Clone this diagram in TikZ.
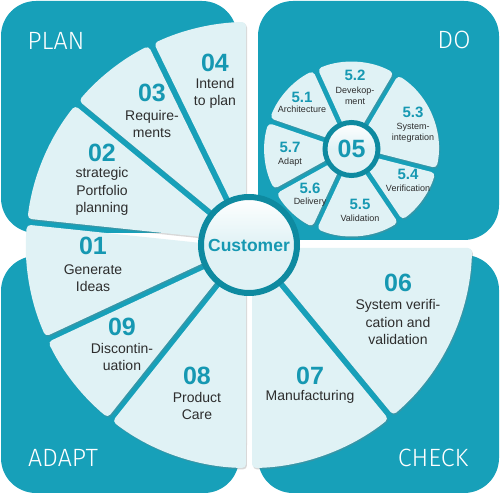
\documentclass[tikz,border=0pt]{standalone}
\usepackage{fontspec}
\setmainfont{Liberation Sans}
\IfFontExistsTF{Fira Sans Light}{\newfontfamily\thinfont{Fira Sans Light}}{\newfontfamily\thinfont{Liberation Sans}}
\usetikzlibrary{calc,shadows}
\definecolor{boxteal}{RGB}{23,160,185}
\definecolor{ringteal}{RGB}{14,138,160}
\definecolor{numteal}{RGB}{22,152,178}
\definecolor{segfill}{RGB}{224,242,245}
\definecolor{txt}{RGB}{45,45,45}
\newcommand\gp{3}
\newcommand\myseg[5]{%
  \path[segstyle] ($(#1)+({#2}:#4)+({#2+90}:\gp)$) -- ($(#1)+({#2}:#5)+({#2+90}:\gp)$)
    arc[start angle={#2+asin(\gp/#5)}, end angle={#3-asin(\gp/#5)}, radius=#5]
    -- ($(#1)+({#3}:#4)+({#3-90}:\gp)$) -- cycle;}
\begin{document}
\begin{tikzpicture}[x=1pt,y=1pt,
  segstyle/.style={fill=segfill, rounded corners=4pt,
    drop shadow={shadow xshift=1pt, shadow yshift=-1.5pt, opacity=0.3}},
  quadbox/.style={fill=boxteal, rounded corners=35pt},
  num/.style={text=numteal, font=\fontsize{25}{25}\selectfont\bfseries, inner sep=0pt},
  lbl/.style={text=txt, font=\fontsize{14}{17.5}\selectfont, align=center, inner sep=0pt},
  snum/.style={text=numteal, font=\fontsize{15}{15}\selectfont\bfseries, inner sep=0pt},
  slbl/.style={text=txt, font=\fontsize{9}{11}\selectfont, align=center, inner sep=0pt},
  quad/.style={text=white, font=\thinfont\fontsize{25}{25}\selectfont, inner sep=0pt}]
\useasboundingbox (0,0) rectangle (500,494);
\fill[white] (0,0) rectangle (500,494);
% quadrant boxes
\path[quadbox] (1,261) rectangle (237,493);
\path[quadbox] (258,254) rectangle (499,493);
\path[quadbox] (1,1) rectangle (239,238);
\path[quadbox] (258,1) rectangle (499,239);
\node[quad] (plan) at (56,453) {PLAN};
\node[quad] (do) at (454,454) {DO};
\node[quad] (adapt) at (63,36) {ADAPT};
\node[quad] (check) at (433,36) {CHECK};
% big wheel
\coordinate (C) at (249,249);
\myseg{C}{90}{116}{40}{223}
\myseg{C}{116}{140.5}{40}{223}
\myseg{C}{140.5}{174}{40}{223}
\myseg{C}{174}{205}{40}{223}
\myseg{C}{205}{231.5}{40}{223}
\myseg{C}{231.5}{270}{40}{223}
\myseg{C}{270}{309.5}{40}{223}
\myseg{C}{309.5}{360}{40}{223}
\node[circle, draw=ringteal, line width=6pt, minimum size=96pt, inner sep=0pt,
  top color=white, bottom color=segfill, middle color=segfill,
  drop shadow={shadow xshift=1pt, shadow yshift=-1.5pt, opacity=0.3},
  text=numteal, font=\fontsize{17.5}{17.5}\selectfont\bfseries] (cust) at (C) {Customer};
% big labels
\node[num] (n04) at (215,431) {04};
\node[lbl] (t04) at (215,400.5) {Intend\\to plan};
\node[num] (n03) at (152,401) {03};
\node[lbl] (t03) at (152,370) {Require-\\ments};
\node[num] (n02) at (102,341) {02};
\node[lbl] (t02) at (102,302.3) {strategic\\Portfolio\\planning};
\node[num] (n01) at (93,248) {01};
\node[lbl] (t01) at (93,216) {Generate\\Ideas};
\node[num] (n09) at (122,167) {09};
\node[lbl] (t09) at (122,137) {Discontin-\\uation};
\node[num] (n08) at (197,118) {08};
\node[lbl] (t08) at (197,88) {Product\\Care};
\node[num] (n07) at (310,118) {07};
\node[lbl] (t07) at (310,97) {Manufacturing};
\node[num] (n06) at (398,211) {06};
\node[lbl] (t06) at (398,171.7) {System verifi-\\cation and\\validation};
% small wheel
\coordinate (S) at (351.5,345);
\renewcommand\gp{2.5}
\myseg{S}{114.5}{161}{20}{87}
\myseg{S}{59.4}{114.5}{20}{87}
\myseg{S}{-14.3}{59.4}{20}{87}
\myseg{S}{-56}{-14.3}{20}{87}
\myseg{S}{-115}{-56}{20}{87}
\myseg{S}{-151}{-115}{20}{87}
\myseg{S}{161}{209}{20}{87}
\node[circle, draw=ringteal, line width=5pt, minimum size=53pt, inner sep=0pt,
  top color=white, bottom color=segfill, middle color=segfill,
  drop shadow={shadow xshift=1pt, shadow yshift=-1.5pt, opacity=0.3},
  text=numteal, font=\fontsize{25}{25}\selectfont\bfseries] (c05) at (S) {05};
\node[snum] (s51) at (302,397) {5.1};
\node[slbl] (l51) at (302,385) {Architecture};
\node[snum] (s52) at (355,419) {5.2};
\node[slbl] (l52) at (355,398) {Devekop-\\ment};
\node[snum] (s53) at (413,382) {5.3};
\node[slbl] (l53) at (413,361.5) {System-\\integration};
\node[snum] (s54) at (408,320) {5.4};
\node[slbl] (l54) at (408,306) {Verification};
\node[snum] (s55) at (360,290) {5.5};
\node[slbl] (l55) at (360,276) {Validation};
\node[snum] (s56) at (310,306) {5.6};
\node[slbl] (l56) at (310,292) {Delivery};
\node[snum] (s57) at (290,347) {5.7};
\node[slbl] (l57) at (290,332) {Adapt};
\end{tikzpicture}
\end{document}
